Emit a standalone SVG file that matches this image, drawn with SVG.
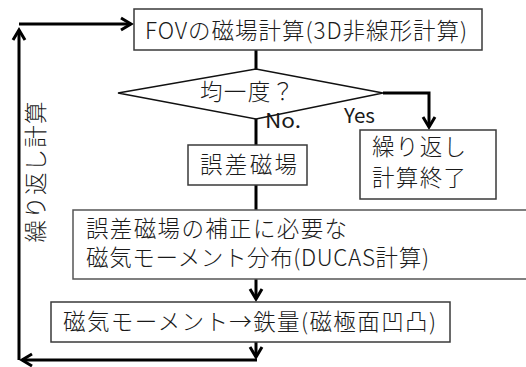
<svg xmlns="http://www.w3.org/2000/svg" width="526" height="367" viewBox="0 0 526 367">
  <defs>
    <style>
      .box { fill: #ffffff; stroke: #3a3a3a; stroke-width: 1.5; }
      .dia { fill: #ffffff; stroke: #111111; stroke-width: 1.5; }
      .ln { fill: none; stroke: #000000; stroke-width: 3; }
      .t { font-family: "Noto Sans CJK JP", "Noto Sans", sans-serif; font-size: 22.5px; font-weight: 300; fill: #1a1a1a; }
      .s { font-family: "Noto Sans CJK JP", "Noto Sans", sans-serif; font-size: 20px; font-weight: 400; fill: #1a1a1a; }
    </style>
    <marker id="ah" markerUnits="userSpaceOnUse" viewBox="-13 -9 16 18" markerWidth="16" markerHeight="18" refX="0" refY="0" orient="auto">
      <path d="M-10,-6 L0,0 L-10,6" fill="none" stroke="#000" stroke-width="3"/>
    </marker>
  </defs>

  <g id="connectors">
    <path class="ln" d="M19,24 H131" marker-end="url(#ah)"/>
    <path class="ln" d="M19,360 V30" marker-end="url(#ah)"/>
    <path class="ln" d="M256,50 V69"/>
    <path class="ln" d="M256,119 V145"/>
    <path class="ln" d="M256,185 V210"/>
    <path class="ln" d="M256,279 V299" marker-end="url(#ah)"/>
    <path class="ln" d="M256,342 V357" marker-end="url(#ah)"/>
    <path class="ln" d="M257,360 H22" marker-end="url(#ah)"/>
    <path class="ln" d="M383,93 H429 V127" marker-end="url(#ah)"/>
  </g>

  <g id="fov">
    <rect class="box" x="134" y="9" width="348" height="41"/>
    <text class="t" x="145" y="39" textLength="322" lengthAdjust="spacing">FOVの磁場計算(3D非線形計算)</text>
  </g>

  <g id="uniformity">
    <polygon class="dia" points="118,93 256,69 383,93 256,119"/>
    <text class="t" x="200" y="100" textLength="94" lengthAdjust="spacing">均一度？</text>
  </g>

  <g id="labels">
    <text class="s" x="265" y="128" textLength="36" lengthAdjust="spacingAndGlyphs">No.</text>
    <text class="s" x="344" y="123" textLength="31" lengthAdjust="spacingAndGlyphs">Yes</text>
  </g>

  <g id="finish">
    <rect class="box" x="360" y="130" width="136" height="69"/>
    <text class="t" x="372" y="155" textLength="94" lengthAdjust="spacing">繰り返し</text>
    <text class="t" x="372" y="186" textLength="94" lengthAdjust="spacing">計算終了</text>
  </g>

  <g id="error-field">
    <rect class="box" x="188" y="145" width="119" height="40"/>
    <text class="t" x="200" y="173" textLength="97" lengthAdjust="spacing">誤差磁場</text>
  </g>

  <g id="ducas">
    <rect class="box" x="73" y="210" width="470" height="69" style="stroke:#555555"/>
    <text class="t" x="86" y="237" textLength="261" lengthAdjust="spacing">誤差磁場の補正に必要な</text>
    <text class="t" x="86" y="266" textLength="343" lengthAdjust="spacing">磁気モーメント分布(DUCAS計算)</text>
  </g>

  <g id="iron">
    <rect class="box" x="51" y="302" width="399" height="40"/>
    <text class="t" x="63" y="330" textLength="373" lengthAdjust="spacing">磁気モーメント→鉄量(磁極面凹凸)</text>
  </g>

  <g id="loop-label">
    <text class="t" transform="translate(36,172) rotate(-90)" x="0" y="8" text-anchor="middle" textLength="141" lengthAdjust="spacing">繰り返し計算</text>
  </g>
</svg>
